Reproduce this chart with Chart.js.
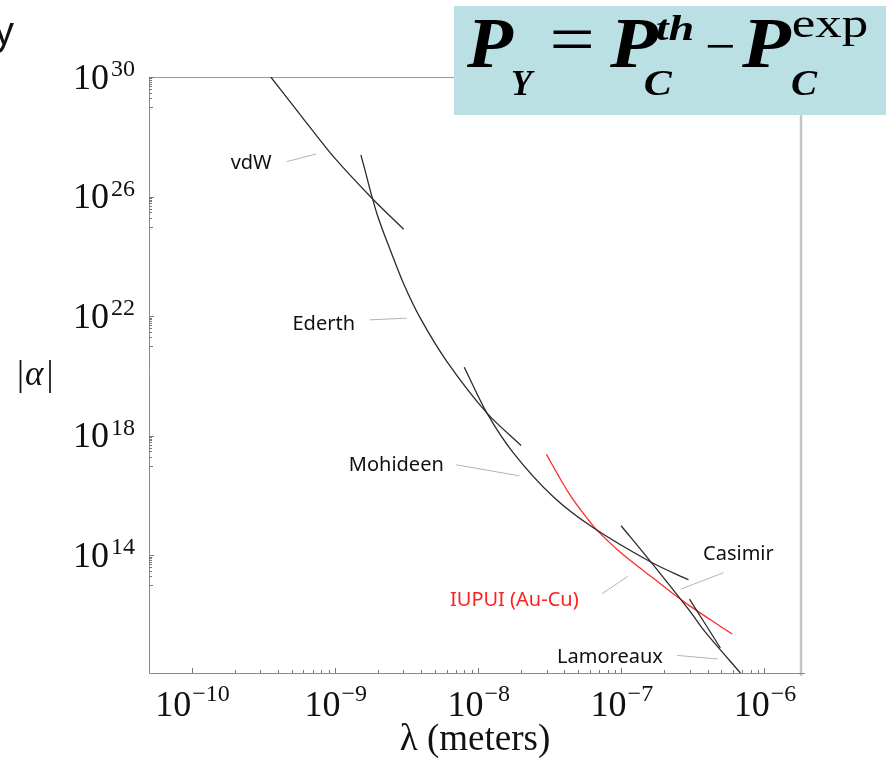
<!DOCTYPE html>
<html><head><meta charset="utf-8">
<script src="https://cdn.jsdelivr.net/npm/chart.js@4.4.0/dist/chart.umd.min.js"></script>
<style>html,body{margin:0;padding:0;background:#fff;overflow:hidden}canvas{display:block}</style>
</head><body>
<canvas id="c" width="891" height="758"></canvas>
<script>
// ---- data (log10 values: lambda in meters, |alpha|) ----
const xTickExponents = [-10, -9, -8, -7, -6];
const yTickExponents = [30, 26, 22, 18, 14];

const vdwLogLambda      = [-9.450, -9.230, -9.012, -8.743, -8.522];
const vdwLogAlpha       = [30.000, 28.650, 27.336, 25.946, 24.910];
const ederthLogLambda   = [-8.820, -8.783, -8.743, -8.706, -8.664, -8.615, -8.524, -8.406, -8.219, -7.939, -7.701];
const ederthLogAlpha    = [27.393, 26.725, 26.000, 25.395, 24.827, 24.218, 23.115, 21.945, 20.485, 18.760, 17.677];
const mohideenLogLambda = [-8.098, -7.939, -7.755, -7.476, -7.196, -6.785, -6.531];
const mohideenLogAlpha  = [20.297, 18.760, 17.433, 15.963, 14.926, 13.757, 13.188];
const casimirLogLambda  = [-7.002, -6.797, -6.529, -6.413, -6.168];
const casimirLogAlpha   = [14.993, 13.800, 12.186, 11.434, 10.070];
const lamoreauxLogLambda= [-6.524, -6.308];
const lamoreauxLogAlpha = [12.543, 10.906];
const iupuiLogLambda    = [-7.524, -7.441, -7.357, -7.266, -7.182, -7.091, -7.007, -6.895, -6.776, -6.643, -6.517, -6.371, -6.226];
const iupuiLogAlpha     = [17.380, 16.678, 16.010, 15.408, 14.907, 14.472, 14.105, 13.670, 13.236, 12.734, 12.299, 11.832, 11.373];

// curve labels and their leader lines (log10 coordinates)
const labelTexts      = ['vdW', 'Ederth', 'Mohideen', 'Casimir', 'IUPUI (Au-Cu)', 'Lamoreaux'];
const labelLogLambda  = [-9.587, -9.080, -8.573, -6.182, -7.748, -7.080];
const labelLogAlpha   = [26.925, 21.544, 16.815, 13.857, 12.320, 10.414];
const leaderLogLambda = [[-9.338, -9.133], [-8.760, -8.499], [-8.154, -7.713], [-6.583, -6.287], [-7.135, -6.956], [-6.610, -6.327]];
const leaderLogAlpha  = [[27.169, 27.426], [21.878, 21.935], [17.032, 16.664], [12.878, 13.422], [12.721, 13.299], [10.658, 10.538]];

const xMin = 5e-11, xMax = 1.8e-6, yMin = Math.pow(10, 10.07), yMax = 1e30;

function pts(lx, ly) { return lx.map((v, i) => ({ x: Math.pow(10, v), y: Math.pow(10, ly[i]) })); }

const curveStyle = { showLine: true, borderColor: '#2b2b2b', borderWidth: 1.3, pointRadius: 0, tension: 0.3, fill: false };
const datasets = [
  Object.assign({ label: 'vdW', data: pts(vdwLogLambda, vdwLogAlpha) }, curveStyle),
  Object.assign({ label: 'Ederth', data: pts(ederthLogLambda, ederthLogAlpha) }, curveStyle),
  Object.assign({ label: 'Mohideen', data: pts(mohideenLogLambda, mohideenLogAlpha) }, curveStyle),
  Object.assign({ label: 'Casimir', data: pts(casimirLogLambda, casimirLogAlpha) }, curveStyle),
  Object.assign({ label: 'Lamoreaux', data: pts(lamoreauxLogLambda, lamoreauxLogAlpha) }, curveStyle),
  Object.assign({}, curveStyle, { label: 'IUPUI (Au-Cu)', data: pts(iupuiLogLambda, iupuiLogAlpha), borderColor: '#ff2b2b' })
];
leaderLogLambda.forEach((lx, i) => {
  datasets.push({ label: 'leader ' + labelTexts[i], data: pts(lx, leaderLogAlpha[i]), showLine: true,
    borderColor: '#b4b4b4', borderWidth: 1, pointRadius: 0 });
});

function inkText(ctx, text, font, left, right, baseline, color) {
  ctx.save();
  ctx.font = font;
  ctx.textAlign = 'left'; ctx.textBaseline = 'alphabetic';
  const m = ctx.measureText(text);
  const w = m.actualBoundingBoxLeft + m.actualBoundingBoxRight;
  const s = (right - left) / w;
  ctx.fillStyle = color;
  ctx.translate(left, baseline); ctx.scale(s, 1);
  ctx.fillText(text, m.actualBoundingBoxLeft, 0);
  ctx.restore();
}

const SERIF = '"Liberation Serif", "Times New Roman", serif';

const framePlugin = {
  id: 'frame',
  beforeDatasetsDraw(chart) {
    const ctx = chart.ctx, a = chart.chartArea, xs = chart.scales.x, ys = chart.scales.y;
    ctx.save();
    ctx.strokeStyle = '#c4c4c4'; ctx.lineWidth = 2.5;
    ctx.beginPath(); ctx.moveTo(a.right, a.top); ctx.lineTo(a.right, a.bottom + 3); ctx.stroke();
    ctx.strokeStyle = '#9a9a9a'; ctx.lineWidth = 1;
    ctx.beginPath(); ctx.moveTo(a.left, a.top + 0.5); ctx.lineTo(a.right, a.top + 0.5); ctx.stroke();
    ctx.strokeStyle = '#8a8a8a';
    ctx.beginPath(); ctx.moveTo(a.left + 0.5, a.top); ctx.lineTo(a.left + 0.5, a.bottom + 0.5); ctx.lineTo(a.right + 4, a.bottom + 0.5); ctx.stroke();
    ctx.strokeStyle = '#777';
    for (let d = -11; d <= -6; d++) {
      for (let m = 1; m <= 9; m++) {
        const v = m * Math.pow(10, d);
        if (v < xMin * 1.9 || v > xMax) continue;
        const px = Math.round(xs.getPixelForValue(v)) + 0.5;
        const len = m === 1 ? 5 : 3;
        ctx.beginPath(); ctx.moveTo(px, a.bottom); ctx.lineTo(px, a.bottom - len); ctx.stroke();
      }
    }
    yTickExponents.forEach(D => {
      const list = [[D, 5]];
      for (let m = 1; m <= 9; m++) list.push([D - 1 + Math.log10(m), m === 1 ? 4 : 3]);
      list.forEach(([lv, len]) => {
        const v = Math.pow(10, lv);
        if (v < yMin || v > yMax) return;
        const py = Math.round(ys.getPixelForValue(v)) + 0.5;
        ctx.beginPath(); ctx.moveTo(a.left, py); ctx.lineTo(a.left + len, py); ctx.stroke();
      });
    });
    ctx.restore();
  },
  afterDraw(chart) {
    const ctx = chart.ctx, a = chart.chartArea, xs = chart.scales.x, ys = chart.scales.y;
    ctx.save();
    ctx.fillStyle = '#111';
    ctx.textBaseline = 'alphabetic';
    xTickExponents.forEach(d => {
      const px = xs.getPixelForValue(Math.pow(10, d));
      ctx.textAlign = 'left';
      ctx.font = '36px ' + SERIF; const wb = ctx.measureText('10').width;
      const sup = '\u2212' + Math.abs(d);
      ctx.font = '24px ' + SERIF; const ws = ctx.measureText(sup).width;
      const x0 = px - (wb + ws) / 2;
      ctx.font = '36px ' + SERIF; ctx.fillText('10', x0, a.bottom + 43);
      ctx.font = '24px ' + SERIF; ctx.fillText(sup, x0 + wb + 1, a.bottom + 28);
    });
    yTickExponents.forEach(D => {
      const py = ys.getPixelForValue(Math.pow(10, D));
      const sup = String(D);
      ctx.textAlign = 'left';
      ctx.font = '24px ' + SERIF; const ws = ctx.measureText(sup).width;
      ctx.font = '36px ' + SERIF; const wb = ctx.measureText('10').width;
      const right = a.left - 14;
      ctx.fillText('10', right - ws - wb - 2, py + 11.5);
      ctx.font = '24px ' + SERIF; ctx.fillText(sup, right - ws, py - 1);
    });
    ctx.textAlign = 'center';
    ctx.font = '37px ' + SERIF;
    ctx.fillText('\u03bb (meters)', (a.left + a.right) / 2, 750);
    ctx.textAlign = 'left';
    ctx.font = '35px ' + SERIF;
    const wbar = ctx.measureText('|').width;
    ctx.fillText('|', 17, 385);
    ctx.font = 'italic 35px ' + SERIF;
    const wal = ctx.measureText('\u03b1').width;
    ctx.fillText('\u03b1', 17 + wbar + 1, 385);
    ctx.font = '35px ' + SERIF;
    ctx.fillText('|', 17 + wbar + wal + 4, 385);
    ctx.font = '20px "Noto Sans", "DejaVu Sans", sans-serif';
    ctx.textAlign = 'center';
    labelTexts.forEach((t, i) => {
      ctx.fillStyle = t.startsWith('IUPUI') ? '#ff2020' : '#111';
      ctx.fillText(t, xs.getPixelForValue(Math.pow(10, labelLogLambda[i])), ys.getPixelForValue(Math.pow(10, labelLogAlpha[i])));
    });
    ctx.fillStyle = '#111';
    ctx.textAlign = 'right';
    ctx.font = '40px "Liberation Sans", Arial, sans-serif';
    ctx.fillText('y', 14, 45);
    ctx.fillStyle = '#bae0e3';
    ctx.fillRect(454, 6, 432, 109);
    const BI = 'bold italic 72px ' + SERIF, bi = 'bold italic 36px ' + SERIF;
    const k = '#000';
    inkText(ctx, 'P', BI, 466, 514, 67, k);
    inkText(ctx, 'Y', bi, 512, 535, 95, k);
    inkText(ctx, '=', '70px ' + SERIF, 553, 592, 63, k);
    inkText(ctx, 'P', BI, 609, 659, 67, k);
    inkText(ctx, 'th', bi, 657, 693, 40, k);
    inkText(ctx, 'C', bi, 645, 673, 95, k);
    inkText(ctx, '\u2212', '54px ' + SERIF, 707, 733, 64, k);
    inkText(ctx, 'P', BI, 741, 792, 67, k);
    inkText(ctx, 'exp', '42px ' + SERIF, 793, 867, 37, k);
    inkText(ctx, 'C', bi, 792, 818, 95, k);
    ctx.restore();
  }
};

new Chart(document.getElementById('c'), {
  type: 'scatter',
  data: { datasets },
  options: {
    responsive: false, animation: false, events: [],
    layout: { padding: { left: 149, top: 77, right: 90, bottom: 85 } },
    plugins: { legend: { display: false }, tooltip: { enabled: false }, title: { display: false } },
    scales: {
      x: { type: 'logarithmic', min: xMin, max: xMax, display: false },
      y: { type: 'logarithmic', min: yMin, max: yMax, display: false }
    }
  },
  plugins: [framePlugin]
});
</script>
</body></html>
